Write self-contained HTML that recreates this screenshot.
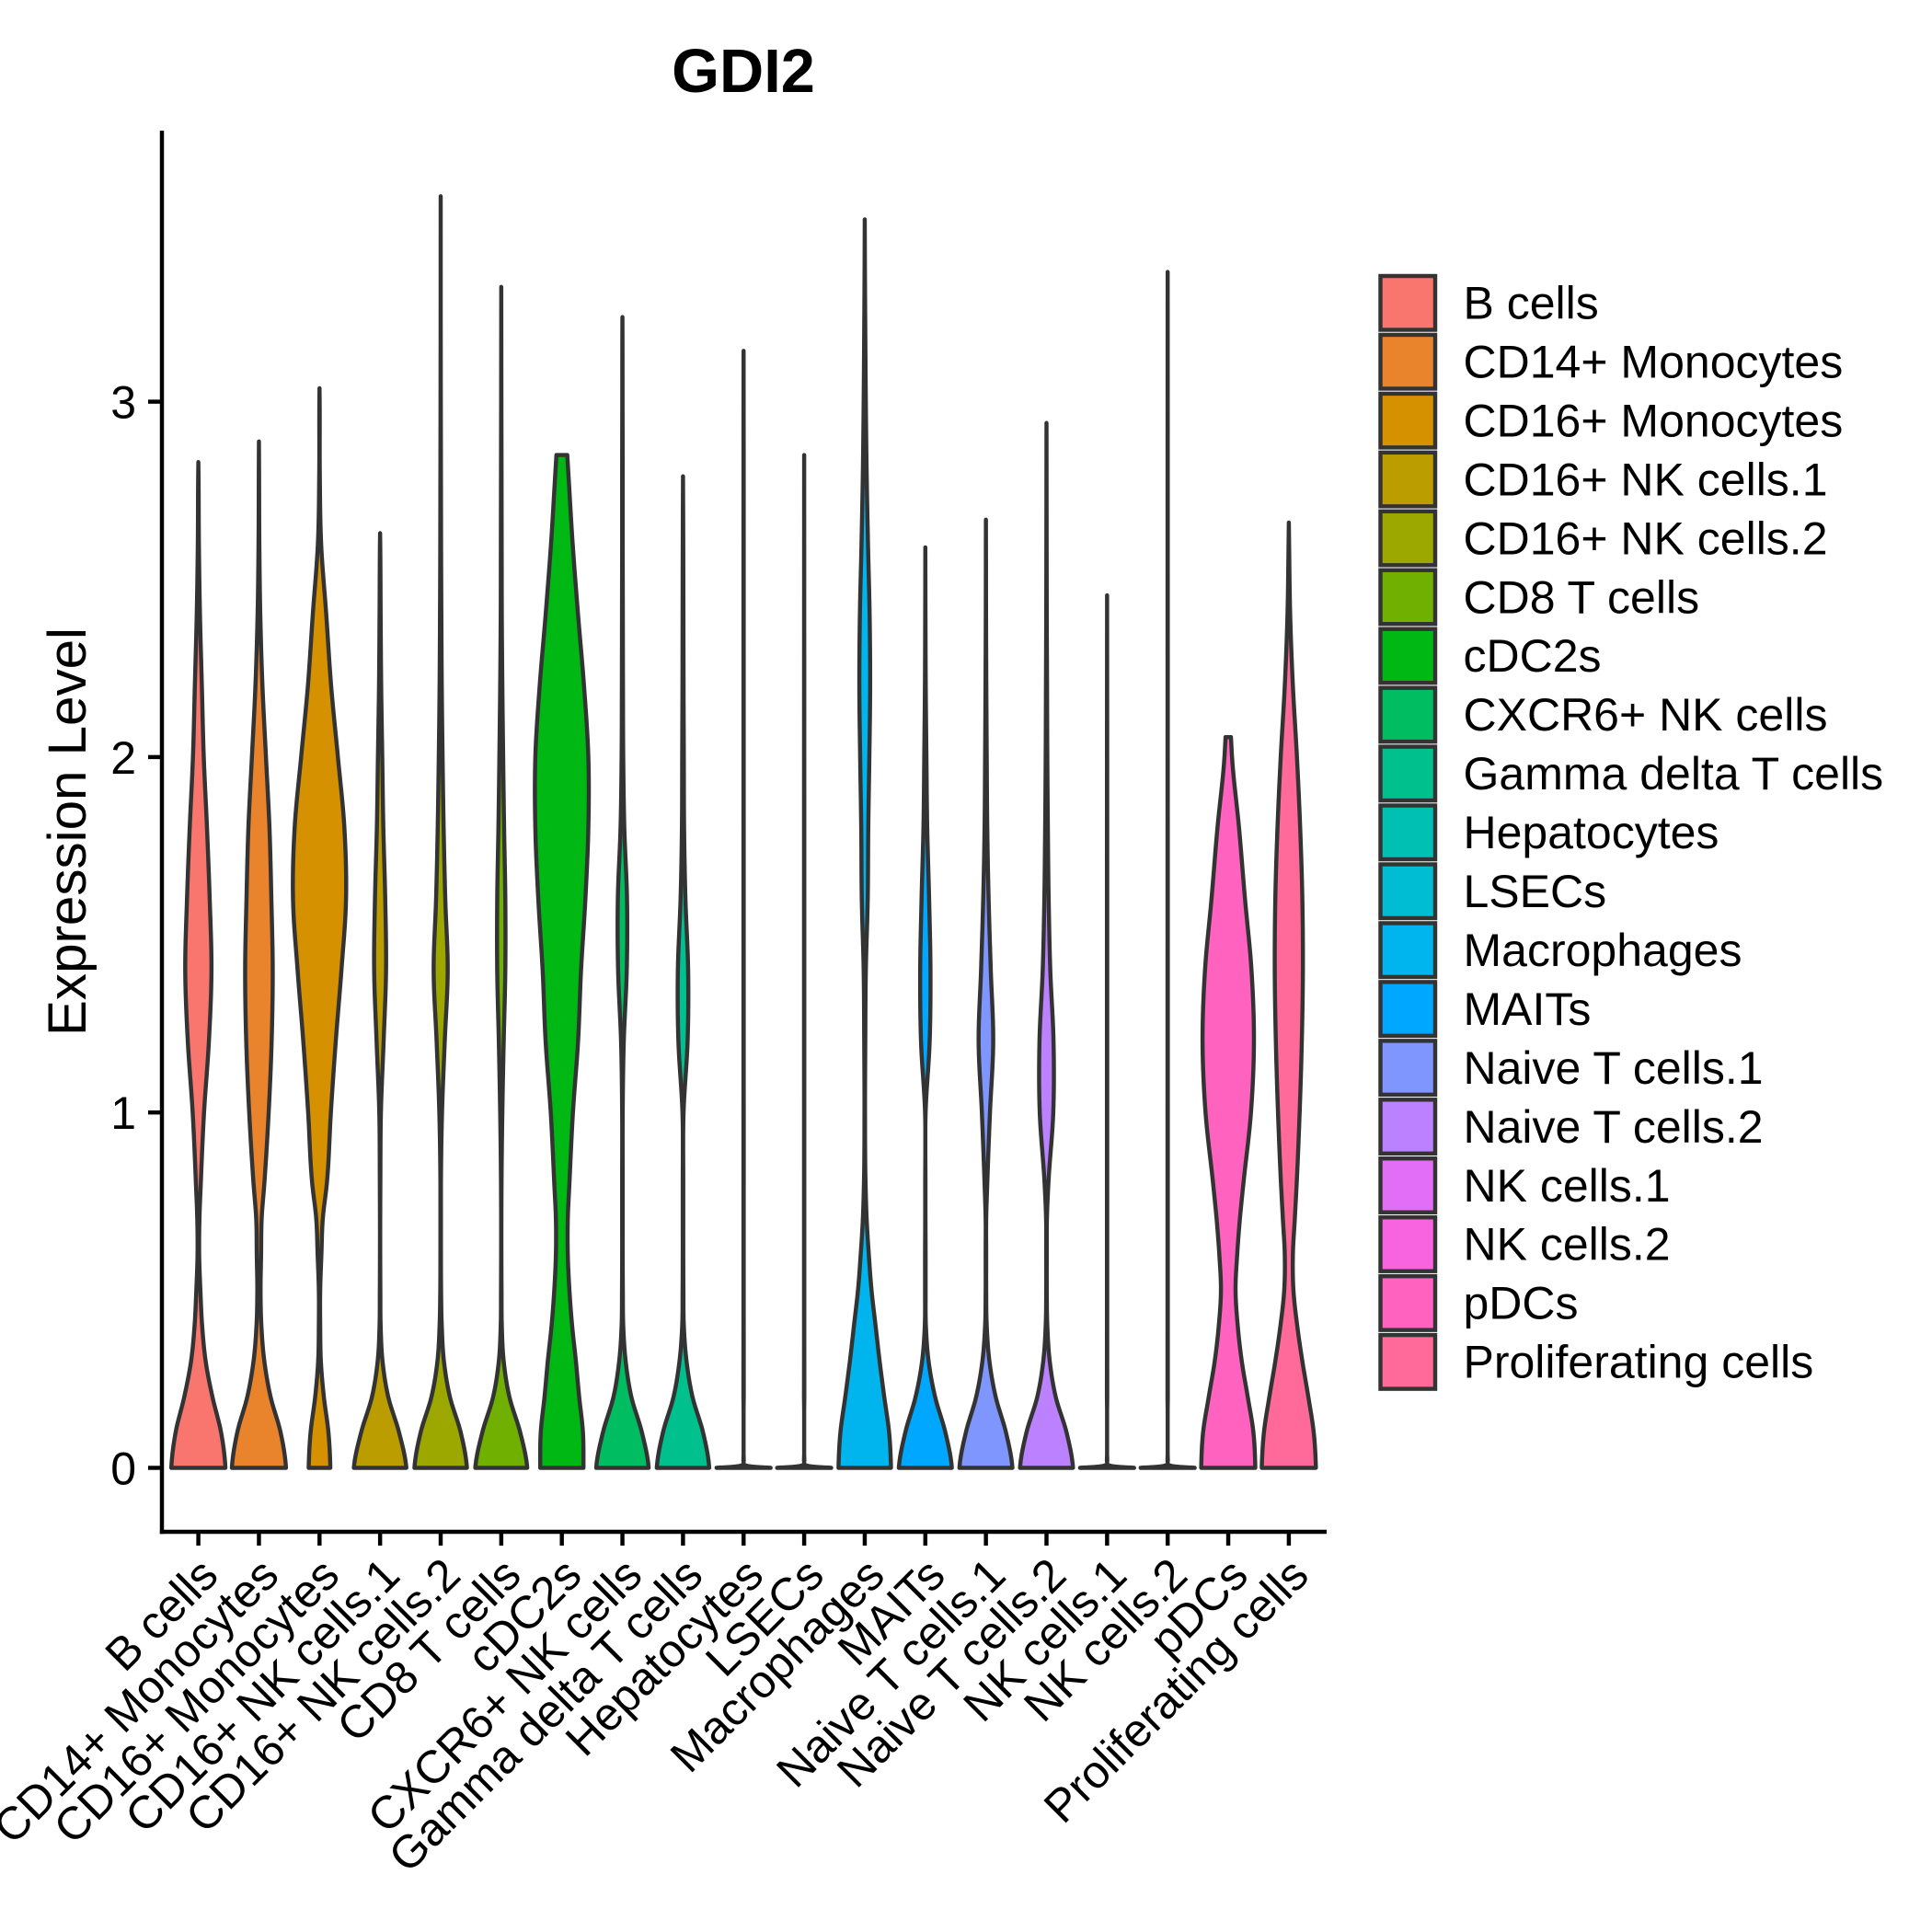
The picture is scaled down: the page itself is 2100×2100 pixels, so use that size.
<!DOCTYPE html>
<html lang="en">
<head>
<meta charset="utf-8">
<title>GDI2 violin plot</title>
<style>
  html, body { margin: 0; padding: 0; background: #ffffff; }
  svg { display: block; }
  text { font-family: "Liberation Sans", Arial, sans-serif; fill: #000000; }
</style>
</head>
<body>
<svg id="chart" xmlns="http://www.w3.org/2000/svg" width="2100" height="2100" viewBox="0 0 2100 2100">
  <rect x="0" y="0" width="2100" height="2100" fill="#ffffff"/>
  <text x="808" y="100" font-size="66.7" font-weight="700" text-anchor="middle">GDI2</text>
  <text transform="translate(93 904) rotate(-90)" font-size="58.3" text-anchor="middle">Expression Level</text>
  <g id="violins"></g>
  <g id="y-axis"></g>
  <g id="x-axis"></g>
  <g id="legend"></g>
</svg>
<script>
const categories = ['B cells','CD14+ Monocytes','CD16+ Monocytes','CD16+ NK cells.1','CD16+ NK cells.2','CD8 T cells','cDC2s','CXCR6+ NK cells','Gamma delta T cells','Hepatocytes','LSECs','Macrophages','MAITs','Naive T cells.1','Naive T cells.2','NK cells.1','NK cells.2','pDCs','Proliferating cells'];
const fillColors = ['#F8766D','#E9842C','#D69100','#BC9D00','#9CA700','#6FB000','#00B813','#00BD61','#00C08E','#00C0B4','#00BDD4','#00B5EE','#00A7FF','#7F96FF','#BC81FF','#E26EF7','#F863DF','#FF62BF','#FF6A9A'];
const yTickValues = [0, 1, 2, 3];

/* expression levels at which the densities below were read */
const denseLevels = [0,0.1,0.2,0.3,0.4,0.5,0.6,0.7,0.8,1,1.2,1.4,1.6,1.8,2,2.2,2.4,2.6,2.8,3,3.2,3.4,3.6];
const spikeLevels = [0,0.003,0.008,0.02,0.2,1,2,3];

/* maximum expression of each group */
const maxExpression = [2.83,2.888,3.038,2.63,3.578,3.323,2.85,3.238,2.79,3.143,2.85,3.513,2.59,2.668,2.94,2.455,3.365,2.056,2.66];

/* relative violin width: one value per level below the maximum, then the value at the maximum */
const densityBCells = [1,0.84,0.52,0.27,0.14,0.075,0.03,0.04,0.09,0.21,0.39,0.485,0.42,0.32,0.2,0.13,0.06,0.02,0.005,0];
const densityCD14Mono = [1,0.8,0.43,0.2,0.09,0.06,0.08,0.1,0.2,0.36,0.47,0.51,0.46,0.39,0.26,0.13,0.05,0.015,0.005,0];
const densityCD16Mono = [0.4,0.33,0.16,0.05,0.025,0.025,0.07,0.12,0.27,0.42,0.6,0.81,0.98,0.92,0.68,0.43,0.25,0.06,0.01,0.005,0];
const densityCD16NK1 = [0.97,0.7,0.3,0.09,0.02,0.01,0.005,0.005,0.01,0.03,0.13,0.22,0.19,0.12,0.08,0.04,0.02,0.005,0];
const densityCD16NK2 = [0.97,0.74,0.34,0.12,0.04,0.015,0.01,0.01,0.01,0.05,0.15,0.26,0.17,0.11,0.07,0.04,0.025,0.015,0.01,0.005,0.002,0.001,0];
const densityCD8T = [0.96,0.7,0.3,0.09,0.02,0.01,0.005,0.005,0.01,0.04,0.09,0.15,0.15,0.105,0.07,0.04,0.02,0.015,0.01,0.005,0.002,0];
const densityCDC2 = [0.8,0.78,0.64,0.52,0.38,0.28,0.22,0.22,0.28,0.41,0.6,0.71,0.87,0.98,0.98,0.82,0.6,0.4,0.24,0.2];
const densityCXCR6NK = [0.97,0.72,0.33,0.12,0.03,0.015,0.01,0.01,0.01,0.01,0.05,0.16,0.17,0.07,0.03,0.02,0.015,0.01,0.01,0.005,0.002,0];
const densityGammaDelta = [0.97,0.74,0.35,0.13,0.03,0.015,0.01,0.01,0.01,0.02,0.17,0.19,0.09,0.04,0.03,0.02,0.015,0.01,0];
const densityHepatocytes = [1,0.4,0.03,0.008,0.006,0.005,0.004,0.002,0];
const densityLSECs = [1,0.4,0.03,0.008,0.006,0.005,0.004,0];
const densityMacrophages = [0.97,0.9,0.72,0.55,0.4,0.25,0.15,0.07,0.03,0.01,0.02,0.04,0.11,0.13,0.17,0.2,0.18,0.12,0.07,0.04,0.02,0.005,0];
const densityMAITs = [0.98,0.74,0.36,0.12,0.02,0.01,0.01,0.005,0.005,0.01,0.16,0.19,0.14,0.07,0.04,0.015,0.005,0];
const densityNaive1 = [0.98,0.74,0.36,0.13,0.03,0.01,0.01,0.01,0.05,0.15,0.27,0.18,0.1,0.05,0.03,0.015,0.005,0.002,0];
const densityNaive2 = [0.98,0.74,0.34,0.12,0.03,0.01,0.01,0.015,0.07,0.25,0.26,0.14,0.08,0.05,0.03,0.02,0.01,0.005,0.002,0];
const densityNK1 = [1,0.4,0.03,0.008,0.006,0.005,0.004,0];
const densityNK2 = [1,0.4,0.03,0.008,0.006,0.005,0.004,0.002,0];
const densityPDCs = [1,0.93,0.72,0.5,0.35,0.27,0.33,0.43,0.56,0.84,0.95,0.86,0.62,0.4,0.14,0.1];
const densityProliferating = [1,0.92,0.72,0.5,0.31,0.17,0.15,0.22,0.29,0.4,0.48,0.52,0.5,0.42,0.3,0.15,0.05,0.01,0];

const densitySeries = [densityBCells,densityCD14Mono,densityCD16Mono,densityCD16NK1,densityCD16NK2,densityCD8T,densityCDC2,densityCXCR6NK,densityGammaDelta,densityHepatocytes,densityLSECs,densityMacrophages,densityMAITs,densityNaive1,densityNaive2,densityNK1,densityNK2,densityPDCs,densityProliferating];
const spikeGroups = ['Hepatocytes','LSECs','NK cells.1','NK cells.2'];

const SVG_NS = 'http://www.w3.org/2000/svg';
const OUTLINE = '#333333';
const LINE_WIDTH = 4.45;
const PLOT = { left: 176, right: 1442, top: 142, bottom: 1665 };

function xScale(i) { return 215.6 + 65.85 * i; }
function yScale(v) { return 1595.5 - 386.3 * v; }
function widthScale(d) { return 29.4 * d; }

function make(tag, attrs, parent) {
  const el = document.createElementNS(SVG_NS, tag);
  for (const k in attrs) el.setAttribute(k, attrs[k]);
  parent.appendChild(el);
  return el;
}

/* smooth cubic through (level, density) readings */
function sampleProfile(levels, values) {
  const n = levels.length;
  const secants = [];
  for (let i = 0; i < n - 1; i++) secants.push((values[i + 1] - values[i]) / (levels[i + 1] - levels[i]));
  const tangents = [];
  for (let i = 0; i < n; i++) {
    if (i === 0) tangents.push(secants[0] * 0.4);
    else if (i === n - 1) tangents.push(secants[n - 2]);
    else {
      const h0 = levels[i] - levels[i - 1], h1 = levels[i + 1] - levels[i];
      tangents.push((h1 * secants[i - 1] + h0 * secants[i]) / (h0 + h1));
    }
  }
  const out = [];
  for (let i = 0; i < n - 1; i++) {
    const h = levels[i + 1] - levels[i];
    for (let s = 0; s < 10; s++) {
      const t = s / 10, t2 = t * t, t3 = t2 * t;
      const d = (2 * t3 - 3 * t2 + 1) * values[i] + (t3 - 2 * t2 + t) * h * tangents[i] +
                (-2 * t3 + 3 * t2) * values[i + 1] + (t3 - t2) * h * tangents[i + 1];
      out.push([levels[i] + t * h, Math.max(0, d)]);
    }
  }
  out.push([levels[n - 1], values[n - 1]]);
  return out;
}

function violinPath(i) {
  const grid = spikeGroups.indexOf(categories[i]) >= 0 ? spikeLevels : denseLevels;
  const top = maxExpression[i];
  const levels = grid.filter(function (l) { return l < top; }).concat([top]);
  const profile = sampleProfile(levels, densitySeries[i]);
  const cx = xScale(i);
  const left = profile.map(function (p) { return (cx - widthScale(p[1])).toFixed(2) + ' ' + yScale(p[0]).toFixed(2); });
  const right = profile.slice().reverse().map(function (p) { return (cx + widthScale(p[1])).toFixed(2) + ' ' + yScale(p[0]).toFixed(2); });
  return 'M' + left.concat(right).join('L') + 'Z';
}

/* violins */
const violinLayer = document.getElementById('violins');
categories.forEach(function (name, i) {
  const path = make('path', { d: violinPath(i), fill: fillColors[i], stroke: OUTLINE, 'stroke-width': LINE_WIDTH, 'stroke-linejoin': 'round' }, violinLayer);
  
  
});

/* y axis */
const yAxis = document.getElementById('y-axis');
const yLine = make('line', { x1: PLOT.left, x2: PLOT.left, y1: PLOT.top, y2: PLOT.bottom + 2.2, stroke: '#000', 'stroke-width': LINE_WIDTH }, yAxis);


yTickValues.forEach(function (v) {
  const mark = make('line', { x1: 161, x2: PLOT.left, y1: yScale(v), y2: yScale(v), stroke: '#000', 'stroke-width': LINE_WIDTH }, yAxis);
  
  
  const label = make('text', { x: 148, y: yScale(v) + 18, 'font-size': 50, 'text-anchor': 'end' }, yAxis);
  
  
  label.textContent = String(v);
});

/* x axis */
const xAxis = document.getElementById('x-axis');
const xLine = make('line', { x1: PLOT.left - 2.2, x2: PLOT.right, y1: PLOT.bottom, y2: PLOT.bottom, stroke: '#000', 'stroke-width': LINE_WIDTH }, xAxis);


categories.forEach(function (name, i) {
  const slug = name.toLowerCase().replace(/[^a-z0-9]+/g, '-');
  const mark = make('line', { x1: xScale(i), x2: xScale(i), y1: PLOT.bottom, y2: 1680, stroke: '#000', 'stroke-width': LINE_WIDTH }, xAxis);
  
  
  const label = make('text', { transform: 'translate(' + (xScale(i) + 24).toFixed(2) + ' 1715) rotate(-45)', 'font-size': 50, 'text-anchor': 'end' }, xAxis);
  
  
  label.textContent = name;
});

/* legend */
const legend = document.getElementById('legend');
categories.forEach(function (name, i) {
  const slug = name.toLowerCase().replace(/[^a-z0-9]+/g, '-');
  const rowY = 300 + 63.95 * i;
  const entry = make('g', {}, legend);
  
  
  const key = make('rect', { x: 1500.5, y: rowY, width: 59.5, height: 58.5, fill: fillColors[i], stroke: OUTLINE, 'stroke-width': LINE_WIDTH }, entry);
  
  
  const text = make('text', { x: 1590.5, y: rowY + 46.5, 'font-size': 50 }, entry);
  
  
  text.textContent = name;
});
</script>
</body>
</html>
